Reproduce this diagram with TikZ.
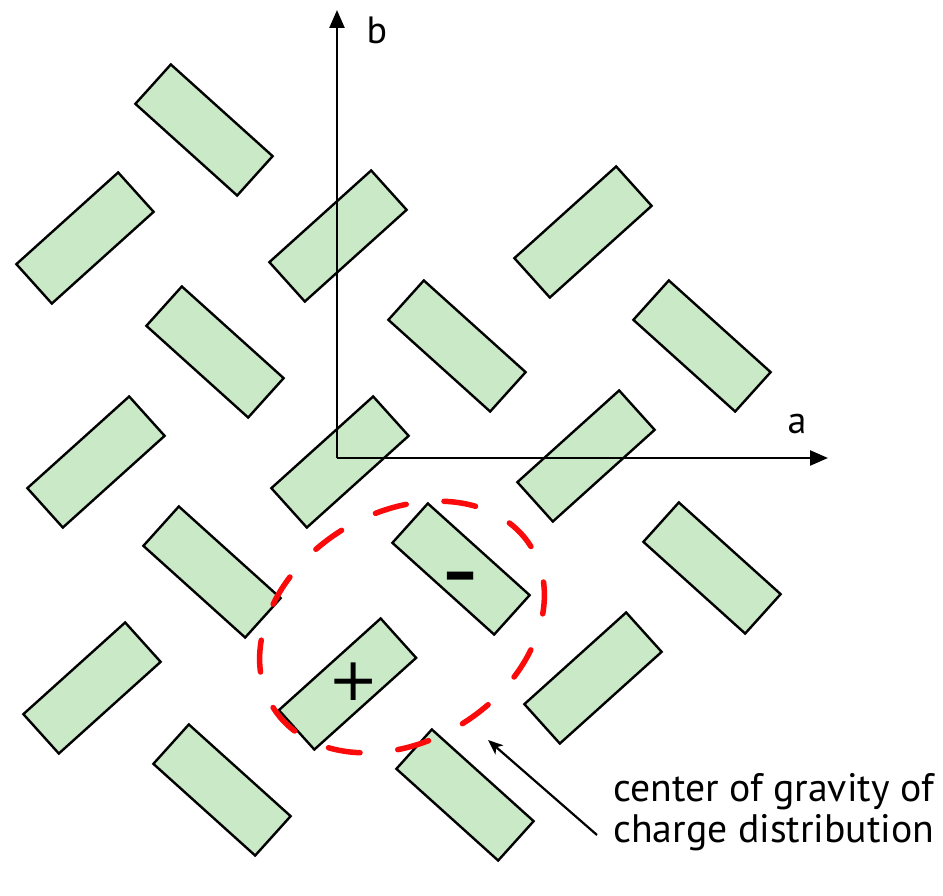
\documentclass[tikz,border=0pt]{standalone}
\usepackage{fontspec}
\setmainfont{PT Sans}
\newfontfamily\signfont{DejaVu Sans}
\usetikzlibrary{arrows.meta,shapes.geometric}
\definecolor{molgreen}{RGB}{202,233,199}
\definecolor{dashred}{RGB}{250,10,10}
\tikzset{
  mol/.style={draw=black, line width=2.4pt, fill=molgreen, rectangle,
    minimum width=137pt, minimum height=53pt, inner sep=0pt},
  molA/.style={mol, rotate=-42},
  molB/.style={mol, rotate=42},
  axisline/.style={line width=2.4pt, -{Triangle[length=18pt,width=15pt]}},
  pointer/.style={line width=2.2pt, -{Stealth[length=15pt,width=12pt,inset=4pt]}},
  axislabel/.style={font=\fontsize{38}{38}\selectfont, inner sep=0pt},
  sign/.style={font=\signfont\fontsize{60}{60}\selectfont, inner sep=0pt},
  minussign/.style={font=\signfont\fontsize{100}{100}\selectfont, inner sep=0pt},
  region/.style={draw=dashred, line width=5.5pt, ellipse, dash pattern=on 32pt off 38pt,
    line cap=round, minimum width=304pt, minimum height=228pt, rotate=32, inner sep=0pt},
  note/.style={font=\fontsize{39.7}{41}\selectfont, align=left, inner sep=0pt}
}
\begin{document}
\begin{tikzpicture}[x=1pt,y=-1pt]
\useasboundingbox (0,0) rectangle (943,896);
% molecules tilted "\"
\node[molA] (m1) at (204,130) {};
\node[molA] (m2) at (215,352) {};
\node[molA] (m3) at (457,346) {};
\node[molA] (m4) at (702,346) {};
\node[molA] (m5) at (212,572) {};
\node[molA] (m6) at (461,569) {};
\node[molA] (m7) at (712,568) {};
\node[molA] (m8) at (222,790) {};
\node[molA] (m9) at (465,795) {};
% molecules tilted "/"
\node[molB] (n1) at (85,238) {};
\node[molB] (n2) at (338,236) {};
\node[molB] (n3) at (583,232) {};
\node[molB] (n4) at (96,462) {};
\node[molB] (n5) at (340,462) {};
\node[molB] (n6) at (586,456) {};
\node[molB] (n7) at (92,688) {};
\node[molB] (n8) at (347.5,684) {};
\node[molB] (n9) at (593,678) {};
% charges
\node[minussign, anchor=base] (minus) at (461,603) {-};
\node[sign] (plus) at (354,682) {+};
% axes
\coordinate (o) at (337,458);
\coordinate (btip) at (337,10);
\coordinate (atip) at (828,458);
\draw[axisline] (o) -- (btip);
\draw[axisline] (o) -- (atip);
\node[axislabel] (blabel) at (377,30) {b};
\node[axislabel] (alabel) at (797,424) {a};
% dashed region
\node[region] (cg) at (402,627) {};
% pointer and note
\node[note, anchor=base west] (txt) at (613,842) {center of gravity of\\charge distribution};
\coordinate (ptail) at (597,835);
\coordinate (phead) at (488,740);
\draw[pointer] (ptail) -- (phead);
\end{tikzpicture}
\end{document}
